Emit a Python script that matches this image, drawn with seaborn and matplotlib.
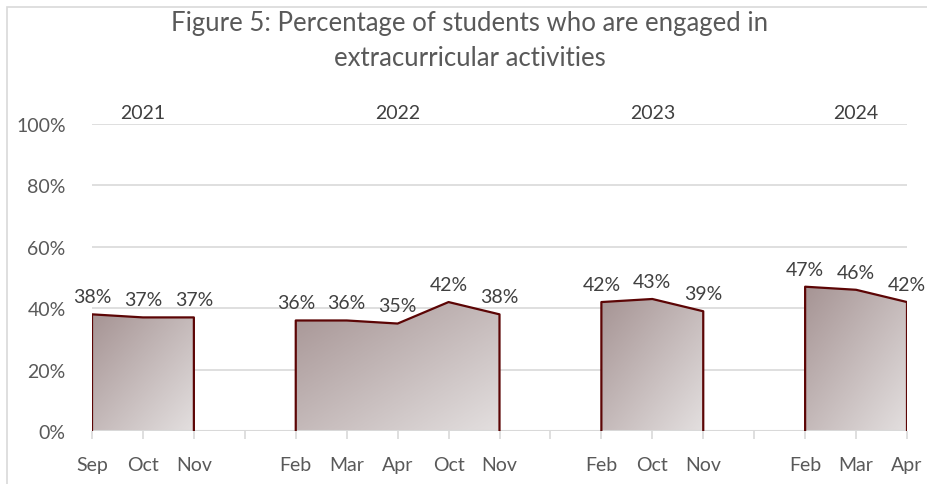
import numpy as np
import pandas as pd
import matplotlib
matplotlib.use('Agg')
import matplotlib.pyplot as plt
import seaborn as sns
from matplotlib.colors import LinearSegmentedColormap
from matplotlib.patches import Rectangle

sns.set_theme(style='white')
plt.rcParams['font.family'] = ['Lato', 'DejaVu Sans']

# data (blank slots separate the years)
months = ['Sep', 'Oct', 'Nov', '', 'Feb', 'Mar', 'Apr', 'Oct', 'Nov', '',
          'Feb', 'Oct', 'Nov', '', 'Feb', 'Mar', 'Apr']
values = [38, 37, 37, np.nan, 36, 36, 35, 42, 38, np.nan,
          42, 43, 39, np.nan, 47, 46, 42]
years = ['2021', '2022', '2023', '2024']
year_pos = [1, 6, 11, 15]

df = pd.DataFrame({'pos': np.arange(len(months)), 'month': months, 'value': values})
df['grp'] = df['value'].isna().cumsum()
df = df.dropna()

line_col = '#5c0505'
txt_col = '#404040'
fs = 14
cmap = LinearSegmentedColormap.from_list('g', ['#a69494', '#e3dfdf'])

fig = plt.figure(figsize=(9.27, 4.85), dpi=100)
ax = fig.add_axes([92/927, 1-432/485, 815/927, 307/485])

# gradient grid, dark top-left to light bottom-right
gx, gy = np.meshgrid(np.linspace(0, 1, 100), np.linspace(0, 1, 100))
grad = (gx + gy) / 2

for g, sub in df.groupby('grp'):
    xs = sub['pos'].to_numpy()
    ys = sub['value'].to_numpy() / 100
    poly = ax.fill_between(xs, 0, ys, color='none', lw=0)
    im = ax.imshow(grad, cmap=cmap, aspect='auto', origin='upper',
                   extent=[xs[0], xs[-1], 0, ys.max()], zorder=2)
    im.set_clip_path(poly.get_paths()[0], transform=ax.transData)
    ox = np.r_[xs[0], xs, xs[-1]]
    oy = np.r_[0, ys, 0]
    sns.lineplot(x=ox, y=oy, sort=False, estimator=None, color=line_col,
                 lw=1.6, ax=ax, zorder=4)
    for x, y in zip(xs, ys):
        ax.text(x, y + 0.03, f'{y*100:.0f}%', ha='center', va='bottom',
                fontsize=fs, color=txt_col, zorder=5)

ax.set_xlim(0, len(months) - 1)
ax.set_ylim(0, 1)
ax.set_yticks(np.arange(0, 1.01, 0.2))
ax.set_yticklabels([f'{int(v*100)}%' for v in np.arange(0, 1.01, 0.2)],
                   fontsize=fs, color='#595959')
ax.set_xticks(range(len(months)))
ax.set_xticklabels(months, fontsize=fs, color='#595959')
ax.tick_params(axis='x', length=6, width=1.2, color='#d9d9d9', pad=12, bottom=True)
ax.tick_params(axis='y', length=0, pad=19)
ax.grid(axis='y', color='#d9d9d9', lw=1.2, zorder=0)
ax.set_axisbelow(True)
for s in ax.spines.values():
    s.set_visible(False)
ax.axhline(0, color='#d9d9d9', lw=1.5, zorder=3)
ax.set_xlabel('')
ax.set_ylabel('')

for yr, p in zip(years, year_pos):
    ax.text(p, 1.01, yr, ha='center', va='bottom', fontsize=fs, color=txt_col,
            transform=ax.get_xaxis_transform())

fig.text(470/927, 1-41/485, 'Figure 5: Percentage of students who are engaged in\nextracurricular activities',
         ha='center', va='center', fontsize=18.5, color='#595959', linespacing=1.45)

fig.patches.append(Rectangle((7/927, -0.1), 1.1, 1-8/485+0.1, transform=fig.transFigure,
                             fill=False, edgecolor='#d9d9d9', lw=1.2))

fig.savefig('out.png', dpi=100)
